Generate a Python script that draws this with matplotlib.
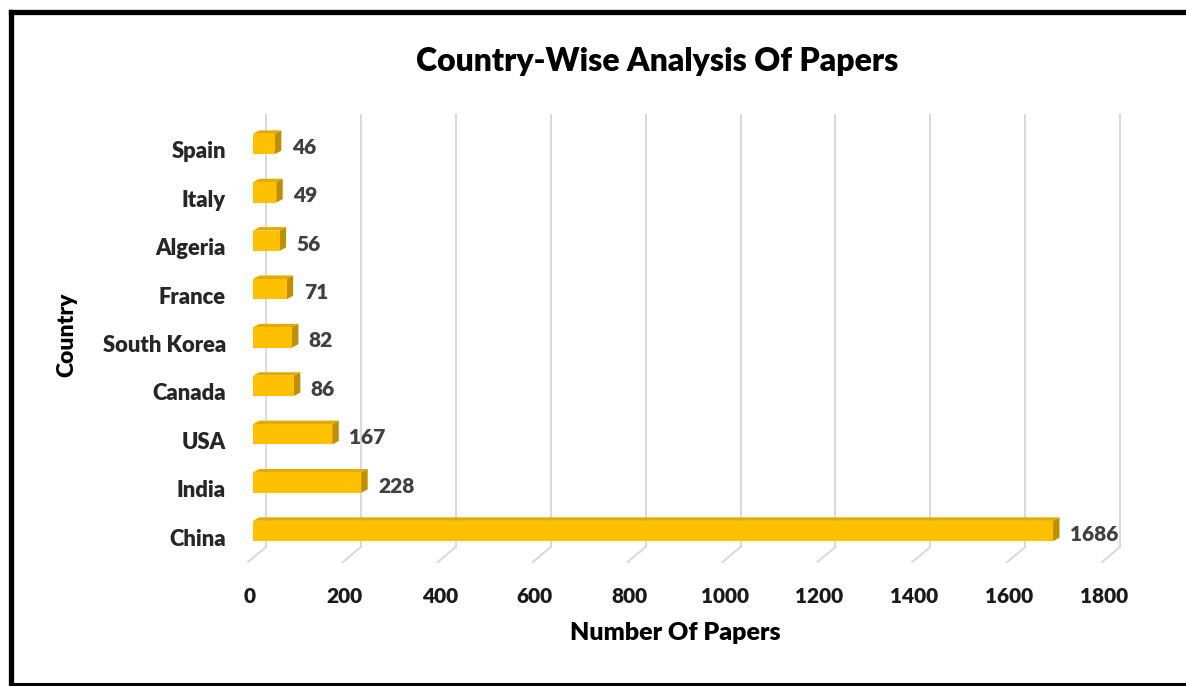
import numpy as np
import matplotlib
matplotlib.use("Agg")
import matplotlib.pyplot as plt
import matplotlib.transforms as mtransforms
from matplotlib.patches import Polygon
from matplotlib.lines import Line2D

# data
countries = ['China', 'India', 'USA', 'Canada', 'South Korea', 'France', 'Algeria', 'Italy', 'Spain']
papers = [1686, 228, 167, 86, 82, 71, 56, 49, 46]
xticks = [0, 200, 400, 600, 800, 1000, 1200, 1400, 1600, 1800]

plt.rcParams['font.family'] = ['Lato', 'DejaVu Sans']
plt.rcParams['font.weight'] = 'heavy'
FW = 'heavy'

W, H = 1186, 686
fig = plt.figure(figsize=(W / 100, H / 100), dpi=100)

# axes placed in pixels
L, R, T, B = 230, 1140, 100, 580
ax = fig.add_axes([L / W, 1 - B / H, (R - L) / W, (B - T) / H])
px_x = 0.4745      # px per unit
px_y = 48.375      # px per category
x0 = 253
ax.set_xlim((L - x0) / px_x, (R - x0) / px_x)
ax.set_ylim((531 - B) / px_y, (531 - T) / px_y)
for s in ax.spines.values():
    s.set_visible(False)

# 3d depth in data units
dx = 6.5 / px_x
dy = 3.5 / px_y
back = 13 / px_x
bh = 0.42

# gridlines with little diagonal feet
g_bot = (531 - 547) / px_y
g_top = (531 - 115) / px_y
g_foot = (531 - 562) / px_y
for v in xticks:
    xb = v + back
    ax.plot([xb, xb], [g_bot, g_top], color='#d9d9d9', lw=1.4, zorder=1)
    ax.plot([xb, xb - 18 / px_x], [g_bot, g_foot], color='#d9d9d9', lw=1.4, zorder=1)

front = '#ffc000'
top_c = '#e3aa00'
side_c = '#bf8f00'
ypos = np.arange(len(countries))
for y, v in zip(ypos, papers):
    y0, y1 = y - bh / 2, y + bh / 2
    ax.add_patch(Polygon([(0, y1), (dx, y1 + dy), (v + dx, y1 + dy), (v, y1)],
                         closed=True, fc=top_c, ec='none', zorder=3))
    ax.add_patch(Polygon([(v, y0), (v + dx, y0 + dy), (v + dx, y1 + dy), (v, y1)],
                         closed=True, fc=side_c, ec='none', zorder=3))
    ax.barh(y, v, height=bh, color=front, zorder=4)
    ax.text(v + dx + 22, y - 0.07, str(v), ha='left', va='center',
            fontsize=15, fontweight=FW, color='#404040', zorder=5)

ax.set_yticks(ypos)
ax.set_yticklabels(countries, fontsize=15.8, fontweight=FW, color='#262626')
ax.set_xticks(xticks)
ax.set_xticklabels([str(t) for t in xticks], fontsize=15, fontweight=FW, color='#1a1a1a')
ax.tick_params(length=0)
ax.tick_params(axis='y', pad=3)
ax.tick_params(axis='x', pad=5)
shift = mtransforms.ScaledTranslation(0, -6 / 100, fig.dpi_scale_trans)
for lab in ax.get_yticklabels():
    lab.set_transform(lab.get_transform() + shift)
shiftx = mtransforms.ScaledTranslation(-3 / 100, 0, fig.dpi_scale_trans)
for lab in ax.get_xticklabels():
    lab.set_transform(lab.get_transform() + shiftx)

fig.text(657 / W, 1 - 61 / H, 'Country-Wise Analysis Of Papers', ha='center', va='center',
         fontsize=23, fontweight=FW, color='black')
fig.text(675 / W, 1 - 633 / H, 'Number Of Papers', ha='center', va='center',
         fontsize=18, fontweight=FW, color='black')
fig.text(67 / W, 1 - 335 / H, 'Country', ha='center', va='center', rotation=90,
         fontsize=16.5, fontweight=FW, color='black')

# black frame
fl = lambda xs, ys, lw: fig.add_artist(Line2D([x / W for x in xs], [1 - y / H for y in ys],
                                              color='black', lw=lw, solid_capstyle='projecting'))
fl([10.5, 1186], [11.5, 11.5], 3.8)
fl([10.5, 10.5], [11.5, 683.5], 3.8)
fl([10.5, 1186], [683.5, 683.5], 2.2)

fig.savefig('out.png', dpi=100, facecolor='white')
